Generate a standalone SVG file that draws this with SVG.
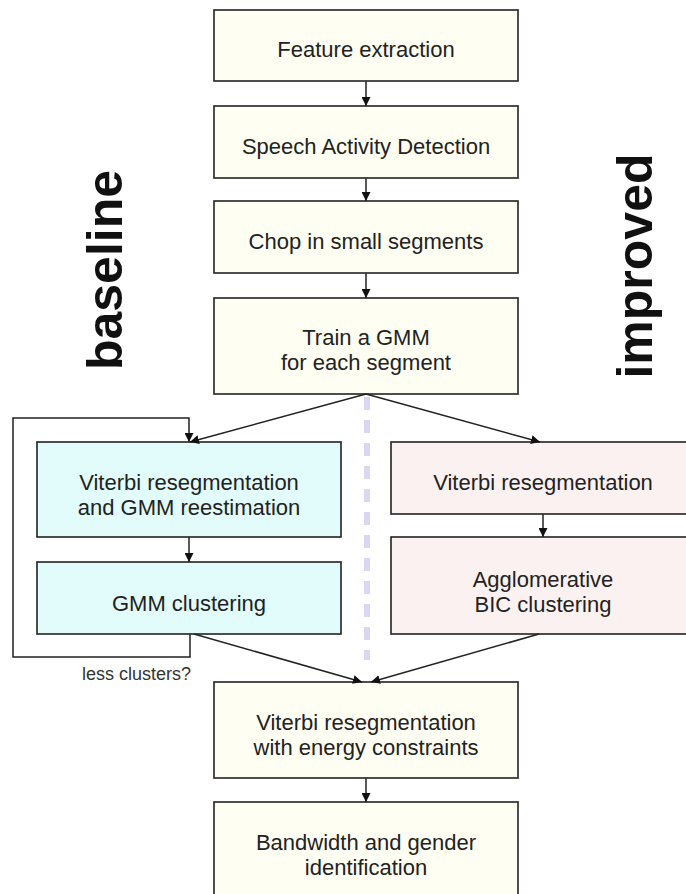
<svg xmlns="http://www.w3.org/2000/svg" width="686" height="894" viewBox="0 0 686 894">
  <style>
    .box { stroke: #222; stroke-width: 1.6; }
    .plain { fill: #fefef3; }
    .base { fill: #e2fbfb; }
    .impr { fill: #fcf1f1; }
    .lbl { font-family: "Liberation Sans", Arial, sans-serif; font-size: 22px; fill: #222; text-anchor: middle; }
    .side { font-family: "Liberation Sans", Arial, sans-serif; font-size: 50px; font-weight: bold; fill: #111; text-anchor: middle; }
    .note { font-family: "Liberation Sans", Arial, sans-serif; font-size: 18px; fill: #333; }
    .edge { fill: none; stroke: #222; stroke-width: 1.5; }
  </style>
  <defs>
    <marker id="arrow" viewBox="0 0 10 10" refX="10" refY="5" markerWidth="9" markerHeight="9" markerUnits="userSpaceOnUse" orient="auto">
      <path d="M0,0 L10,5 L0,10 z" fill="#111"/>
    </marker>
  </defs>
  <rect width="686" height="894" fill="#ffffff"/>

  <!-- section labels -->
  <text class="side" transform="translate(122,270) rotate(-90)">baseline</text>
  <text class="side" transform="translate(652,266) rotate(-90)">improved</text>

  <!-- divider between the two variants -->
  <line x1="367" y1="397" x2="367" y2="660" stroke="#d8d8f4" stroke-width="6" stroke-dasharray="13 10"/>

  <g id="feature-extraction">
    <rect class="box plain" x="214" y="10" width="304" height="71"/>
    <text class="lbl" x="366" y="57">Feature extraction</text>
  </g>
  <g id="speech-activity">
    <rect class="box plain" x="214" y="106" width="304" height="72"/>
    <text class="lbl" x="366" y="154">Speech Activity Detection</text>
  </g>
  <g id="chop">
    <rect class="box plain" x="214" y="201" width="304" height="72"/>
    <text class="lbl" x="366" y="249">Chop in small segments</text>
  </g>
  <g id="train-gmm">
    <rect class="box plain" x="214" y="298" width="304" height="96"/>
    <text class="lbl" x="366" y="345">Train a GMM</text>
    <text class="lbl" x="366" y="370">for each segment</text>
  </g>
  <g id="viterbi-reest">
    <rect class="box base" x="37" y="442" width="304" height="95"/>
    <text class="lbl" x="189" y="490">Viterbi resegmentation</text>
    <text class="lbl" x="189" y="515">and GMM reestimation</text>
  </g>
  <g id="gmm-clustering">
    <rect class="box base" x="37" y="562" width="304" height="72"/>
    <text class="lbl" x="189" y="611">GMM clustering</text>
  </g>
  <g id="viterbi-reseg">
    <rect class="box impr" x="391" y="442" width="304" height="72"/>
    <text class="lbl" x="543" y="490">Viterbi resegmentation</text>
  </g>
  <g id="bic-clustering">
    <rect class="box impr" x="391" y="537" width="304" height="97"/>
    <text class="lbl" x="543" y="587">Agglomerative</text>
    <text class="lbl" x="543" y="612">BIC clustering</text>
  </g>
  <g id="viterbi-energy">
    <rect class="box plain" x="214" y="682" width="304" height="96"/>
    <text class="lbl" x="366" y="730">Viterbi resegmentation</text>
    <text class="lbl" x="366" y="755">with energy constraints</text>
  </g>
  <g id="bandwidth-gender">
    <rect class="box plain" x="214" y="802" width="304" height="96"/>
    <text class="lbl" x="366" y="850">Bandwidth and gender</text>
    <text class="lbl" x="366" y="875">identification</text>
  </g>

  <g id="connectors">
    <line class="edge" x1="366" y1="81" x2="366" y2="106" marker-end="url(#arrow)"/>
    <line class="edge" x1="366" y1="178" x2="366" y2="201" marker-end="url(#arrow)"/>
    <line class="edge" x1="366" y1="273" x2="366" y2="298" marker-end="url(#arrow)"/>
    <line class="edge" x1="366" y1="394" x2="190" y2="442" marker-end="url(#arrow)"/>
    <line class="edge" x1="366" y1="394" x2="540" y2="442" marker-end="url(#arrow)"/>
    <line class="edge" x1="189" y1="537" x2="189" y2="562" marker-end="url(#arrow)"/>
    <line class="edge" x1="543" y1="514" x2="543" y2="537" marker-end="url(#arrow)"/>
    <path class="edge" d="M190,634 V657 H13 V418 H189 V442" marker-end="url(#arrow)"/>
    <line class="edge" x1="194" y1="634" x2="362" y2="682" marker-end="url(#arrow)"/>
    <line class="edge" x1="539" y1="634" x2="371" y2="682" marker-end="url(#arrow)"/>
    <line class="edge" x1="366" y1="778" x2="366" y2="802" marker-end="url(#arrow)"/>
    <text class="note" x="82" y="680">less clusters?</text>
  </g>
</svg>
